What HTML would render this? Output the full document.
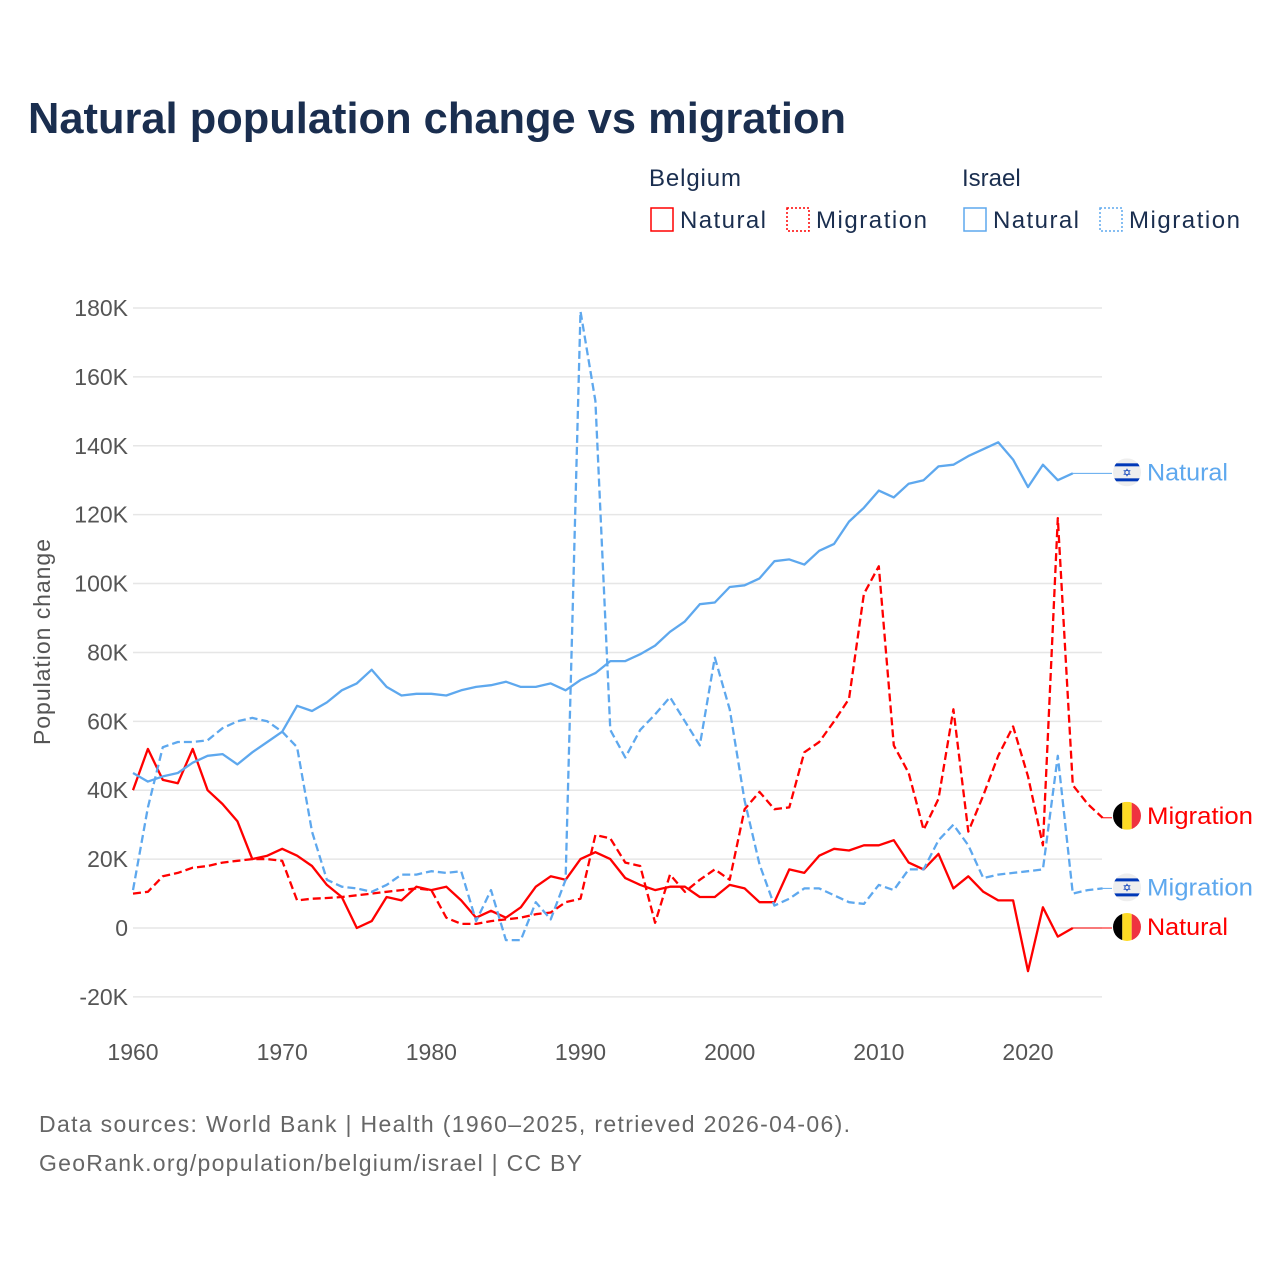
<!DOCTYPE html>
<html><head><meta charset="utf-8"><style>
html,body{margin:0;padding:0;background:#fff;}
svg{display:block;font-family:"Liberation Sans",sans-serif;}
</style></head><body>
<svg id="chart" width="1280" height="1280" viewBox="0 0 1280 1280" xmlns="http://www.w3.org/2000/svg">
<defs></defs>
<text x="28" y="133" font-size="44" font-weight="bold" fill="#1a2e4f" textLength="818" lengthAdjust="spacingAndGlyphs">Natural population change vs migration</text>
<g>
<text x="649" y="186" font-size="24" fill="#1a2e4f" textLength="92">Belgium</text>
<text x="962" y="186" font-size="24" fill="#1a2e4f">Israel</text>
<g><rect x="651" y="208" width="22" height="23" fill="none" stroke="#ff0000" stroke-width="1.5"/><text x="680" y="228" font-size="24" fill="#1a2e4f" textLength="86">Natural</text></g>
<g><rect x="787" y="208" width="22" height="23" fill="none" stroke="#ff0000" stroke-width="1.5" stroke-dasharray="2 2"/><text x="816" y="228" font-size="24" fill="#1a2e4f" textLength="111">Migration</text></g>
<g><rect x="964" y="208" width="22" height="23" fill="none" stroke="#5ea8ee" stroke-width="1.5"/><text x="993" y="228" font-size="24" fill="#1a2e4f" textLength="86">Natural</text></g>
<g><rect x="1100" y="208" width="22" height="23" fill="none" stroke="#5ea8ee" stroke-width="1.5" stroke-dasharray="2 2"/><text x="1129" y="228" font-size="24" fill="#1a2e4f" textLength="111">Migration</text></g>
</g>
<g id="grid"></g>
<g id="yticks"></g>
<g id="xticks"></g>
<text transform="translate(50,642) rotate(-90)" text-anchor="middle" font-size="23" fill="#555" textLength="206">Population change</text>
<g id="series"></g>
<g id="labels"></g>
<text x="39" y="1132" font-size="23" fill="#666" textLength="811">Data sources: World Bank | Health (1960–2025, retrieved 2026-04-06).</text>
<text x="39" y="1171" font-size="23" fill="#666" textLength="543">GeoRank.org/population/belgium/israel | CC BY</text>
</svg>
<script>
const years = Array.from({length:66},(_, i)=>1960+i);
const yTicks = [-20,0,20,40,60,80,100,120,140,160,180];
const yTickLabels = ["-20K","0","20K","40K","60K","80K","100K","120K","140K","160K","180K"];
const xTicks = [1960,1970,1980,1990,2000,2010,2020];
const beNatural = [40,52,43,42,52,40,36,31,20,21,23,21,18,12.5,9,0,2,9,8,12,11,12,8,3,5,3,6,12,15,14,20,22,20,14.5,12.5,11,12,12,9,9,12.5,11.5,7.5,7.5,17,16,21,23,22.5,24,24,25.5,19,17,21.5,11.5,15,10.5,8,8,-12.5,6,-2.5,0];
const beMigration = [10,10.5,15,16,17.5,18,19,19.5,20,20,19.5,8,8.5,8.7,9,9.5,10,10.5,11,11.5,11,3,1.2,1.2,2,2.5,3,4,4.5,7.5,8.5,27,26,19,18,1.5,15.5,10.5,14,17,14,34.5,39.5,34.5,35,51,54,60,66.5,97,105,53,45,28.5,37.5,63.5,28,38.5,50,58.5,44,24,119,41.5,36,32];
const ilNatural = [45,42.5,44,45,48,50,50.5,47.5,51,54,57,64.5,63,65.5,69,71,75,70,67.5,68,68,67.5,69,70,70.5,71.5,70,70,71,69,72,74,77.5,77.5,79.5,82,86,89,94,94.5,99,99.5,101.5,106.5,107,105.5,109.5,111.5,118,122,127,125,129,130,134,134.5,137,139,141,136,128,134.5,130,132];
const ilMigration = [11,35,52.5,54,54,54.5,58,60,61,60,57,52.5,28,14,12,11.5,10.5,12.5,15.5,15.5,16.5,16,16.5,2,11,-3.5,-3.5,7.5,2.5,14,179,153,57.5,49.5,57.5,62,67,60,53,78.5,63.5,37,18.5,6.5,8.5,11.5,11.5,9.5,7.5,7,12.5,11,17,17,25.5,30,24,14.5,15.5,16,16.5,17,50,10,11,11.5];

const NS="http://www.w3.org/2000/svg";
const X0=133, X1=1102;
function xs(yr){return 133+(yr-1960)*(1028-133)/60;}
function ys(v){return 928-v*(928-308)/180;}
function mk(tag,attrs,parent){const e=document.createElementNS(NS,tag);for(const k in attrs)e.setAttribute(k,attrs[k]);parent.appendChild(e);return e;}

const grid=document.getElementById('grid'), yt=document.getElementById('yticks'), xt=document.getElementById('xticks');
yTicks.forEach((v,i)=>{
  const l=mk('line',{x1:X0,x2:X1,y1:ys(v),y2:ys(v),stroke:'#e6e6e6','stroke-width':1.5},grid);
  
  
  const t=mk('text',{x:128,y:ys(v)+8,'text-anchor':'end','font-size':23,fill:'#555'},yt);
  t.textContent=yTickLabels[i];
  
  
});
xTicks.forEach(yr=>{
  const t=mk('text',{x:xs(yr),y:1060,'text-anchor':'middle','font-size':23,fill:'#555'},xt);
  t.textContent=yr;
  
  
});

const series=document.getElementById('series');
function draw(vals,color,dashed,name){
  const pts=vals.map((v,i)=>xs(years[i]).toFixed(1)+','+ys(v).toFixed(1)).join(' ');
  const p=mk('polyline',{points:pts,fill:'none',stroke:color,'stroke-width':2.3,'stroke-linejoin':'round'},series);
  if(dashed)p.setAttribute('stroke-dasharray','8 4');
  
  
  const last=vals.length-1;
  const ld=mk('line',{x1:xs(years[last]),x2:1112,y1:ys(vals[last]),y2:ys(vals[last]),stroke:color,'stroke-width':1},series);
  
  
  return ys(vals[last]);
}
const yBN=draw(beNatural,'#ff0000',false,'line-belgium-natural');
const yBM=draw(beMigration,'#ff0000',true,'line-belgium-migration');
const yIN=draw(ilNatural,'#5ea8ee',false,'line-israel-natural');
const yIM=draw(ilMigration,'#5ea8ee',true,'line-israel-migration');

const labels=document.getElementById('labels');
const defs=document.querySelector('defs');
let fid=0;
function flag(cy,kind,text,color,name,tl){
  const g=mk('g',{},labels);
  
  
  const cx=1127;
  fid++;
  const cp=mk('clipPath',{id:'fc'+fid},defs);
  mk('circle',{cx:cx,cy:cy,r:14},cp);
  const f=mk('g',{'clip-path':'url(#fc'+fid+')'},g);
  if(kind==='be'){
    mk('rect',{x:cx-14,y:cy-14,width:9.3,height:28,fill:'#000'},f);
    mk('rect',{x:cx-4.7,y:cy-14,width:9.4,height:28,fill:'#fdda24'},f);
    mk('rect',{x:cx+4.7,y:cy-14,width:9.3,height:28,fill:'#ef3340'},f);
  } else {
    mk('rect',{x:cx-14,y:cy-14,width:28,height:28,fill:'#eee'},f);
    mk('rect',{x:cx-14,y:cy-9,width:28,height:3,fill:'#0038b8'},f);
    mk('rect',{x:cx-14,y:cy+6,width:28,height:3,fill:'#0038b8'},f);
    const s=mk('text',{x:cx,y:cy+4,'text-anchor':'middle','font-size':11,fill:'#0038b8'},f);
    s.textContent='✡';
  }
  const t=mk('text',{x:1147,y:cy+8,'font-size':24,fill:color,textLength:tl,lengthAdjust:'spacingAndGlyphs'},g);
  t.textContent=text;
}
flag(yIN-1,'il','Natural','#5ea8ee','label-israel-natural',81);
flag(yBM-2,'be','Migration','#ff0000','label-belgium-migration',106);
flag(yIM-1,'il','Migration','#5ea8ee','label-israel-migration',106);
flag(yBN-1,'be','Natural','#ff0000','label-belgium-natural',81);
</script>
</body></html>
